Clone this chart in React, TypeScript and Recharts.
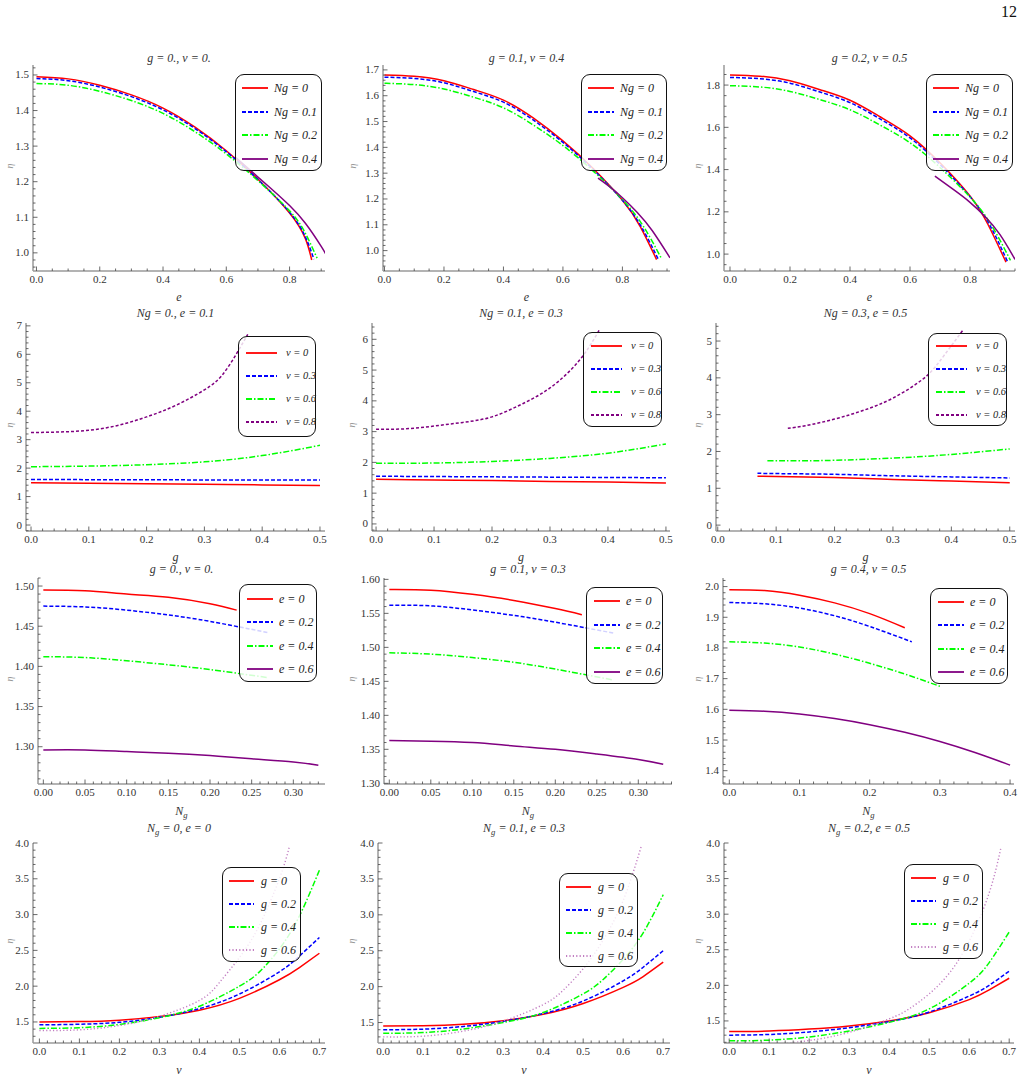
import React from "react";
import { LineChart, Line, XAxis, YAxis, Legend } from "recharts";

type Pt = [number, number];
type StyleKey = "red" | "blue" | "green" | "purple" | "purpleDash" | "purpleDot";

// ---- legend names ----
const NG_NAMES = ["Ng = 0", "Ng = 0.1", "Ng = 0.2", "Ng = 0.4"];
const V_NAMES = ["v = 0", "v = 0.3", "v = 0.6", "v = 0.8"];
const E_NAMES = ["e = 0", "e = 0.2", "e = 0.4", "e = 0.6"];
const G_NAMES = ["g = 0", "g = 0.2", "g = 0.4", "g = 0.6"];

// ---- row 1: eta vs e ----
const p1Red: Pt[] = [[0, 1.495], [0.1, 1.489], [0.2, 1.471], [0.3, 1.444], [0.4, 1.407], [0.5, 1.354], [0.6, 1.287], [0.7, 1.207], [0.8, 1.112], [0.85, 1.04], [0.87, 0.98]];
const p1Blue: Pt[] = [[0, 1.49], [0.1, 1.484], [0.2, 1.466], [0.3, 1.439], [0.4, 1.402], [0.5, 1.35], [0.6, 1.284], [0.7, 1.206], [0.8, 1.114], [0.85, 1.045], [0.877, 0.982]];
const p1Green: Pt[] = [[0, 1.476], [0.1, 1.471], [0.2, 1.454], [0.3, 1.428], [0.4, 1.392], [0.5, 1.341], [0.6, 1.278], [0.7, 1.203], [0.8, 1.118], [0.85, 1.055], [0.887, 0.985]];
const p1Purple: Pt[] = [[0.63, 1.268], [0.7, 1.213], [0.75, 1.174], [0.8, 1.133], [0.85, 1.083], [0.9, 1.018], [0.92, 0.988]];

const p2Red: Pt[] = [[0, 1.68], [0.1, 1.675], [0.2, 1.658], [0.3, 1.624], [0.4, 1.583], [0.5, 1.514], [0.6, 1.425], [0.7, 1.32], [0.8, 1.195], [0.86, 1.093], [0.915, 0.965]];
const p2Blue: Pt[] = [[0, 1.672], [0.1, 1.667], [0.2, 1.65], [0.3, 1.616], [0.4, 1.575], [0.5, 1.506], [0.6, 1.419], [0.7, 1.316], [0.8, 1.195], [0.865, 1.09], [0.92, 0.968]];
const p2Green: Pt[] = [[0, 1.648], [0.1, 1.643], [0.2, 1.626], [0.3, 1.594], [0.4, 1.553], [0.5, 1.487], [0.6, 1.407], [0.7, 1.31], [0.8, 1.198], [0.87, 1.095], [0.93, 0.972]];
const p2Purple: Pt[] = [[0.718, 1.281], [0.76, 1.245], [0.8, 1.205], [0.85, 1.148], [0.9, 1.078], [0.96, 0.972]];

const p3Red: Pt[] = [[0, 1.848], [0.1, 1.842], [0.2, 1.82], [0.3, 1.778], [0.4, 1.728], [0.5, 1.65], [0.6, 1.56], [0.7, 1.432], [0.8, 1.275], [0.86, 1.14], [0.92, 0.962]];
const p3Blue: Pt[] = [[0, 1.836], [0.1, 1.83], [0.2, 1.809], [0.3, 1.767], [0.4, 1.717], [0.5, 1.64], [0.6, 1.55], [0.7, 1.424], [0.8, 1.272], [0.865, 1.14], [0.925, 0.965]];
const p3Green: Pt[] = [[0, 1.797], [0.1, 1.791], [0.2, 1.77], [0.3, 1.731], [0.4, 1.683], [0.5, 1.611], [0.6, 1.527], [0.7, 1.41], [0.8, 1.27], [0.87, 1.14], [0.935, 0.97]];
const p3Purple: Pt[] = [[0.683, 1.369], [0.75, 1.3], [0.8, 1.245], [0.85, 1.178], [0.9, 1.092], [0.95, 0.975]];

// ---- row 2: eta vs g ----
const p4Red: Pt[] = [[0, 1.49], [0.1, 1.47], [0.2, 1.45], [0.3, 1.43], [0.4, 1.41], [0.5, 1.39]];
const p4Blue: Pt[] = [[0, 1.6], [0.1, 1.595], [0.2, 1.59], [0.3, 1.585], [0.4, 1.58], [0.5, 1.58]];
const p4Green: Pt[] = [[0, 2.05], [0.1, 2.07], [0.2, 2.12], [0.3, 2.22], [0.4, 2.44], [0.5, 2.8]];
const p4Purple: Pt[] = [[0, 3.25], [0.05, 3.27], [0.1, 3.33], [0.15, 3.5], [0.2, 3.8], [0.25, 4.2], [0.3, 4.75], [0.33, 5.25], [0.355, 6.0], [0.375, 6.7]];

const p5Red: Pt[] = [[0, 1.45], [0.1, 1.43], [0.2, 1.41], [0.3, 1.38], [0.4, 1.36], [0.5, 1.33]];
const p5Blue: Pt[] = [[0, 1.55], [0.1, 1.54], [0.2, 1.53], [0.3, 1.52], [0.4, 1.51], [0.5, 1.5]];
const p5Green: Pt[] = [[0, 1.97], [0.1, 1.98], [0.2, 2.03], [0.3, 2.13], [0.4, 2.3], [0.5, 2.6]];
const p5Purple: Pt[] = [[0, 3.08], [0.05, 3.09], [0.1, 3.18], [0.15, 3.3], [0.2, 3.48], [0.25, 3.88], [0.3, 4.42], [0.35, 5.3], [0.385, 6.3]];

const p6Red: Pt[] = [[0.068, 1.33], [0.1, 1.32], [0.2, 1.29], [0.3, 1.24], [0.4, 1.2], [0.5, 1.15]];
const p6Blue: Pt[] = [[0.068, 1.41], [0.1, 1.4], [0.2, 1.38], [0.3, 1.34], [0.4, 1.31], [0.5, 1.28]];
const p6Green: Pt[] = [[0.085, 1.75], [0.15, 1.75], [0.2, 1.76], [0.3, 1.82], [0.4, 1.92], [0.5, 2.07]];
const p6Purple: Pt[] = [[0.12, 2.63], [0.15, 2.7], [0.2, 2.88], [0.25, 3.12], [0.3, 3.45], [0.35, 3.95], [0.38, 4.45], [0.42, 5.3]];

// ---- row 3: eta vs Ng ----
const p7Red: Pt[] = [[0, 1.495], [0.05, 1.494], [0.1, 1.49], [0.15, 1.486], [0.2, 1.478], [0.232, 1.47]];
const p7Blue: Pt[] = [[0, 1.475], [0.05, 1.474], [0.1, 1.47], [0.15, 1.464], [0.2, 1.456], [0.27, 1.442]];
const p7Green: Pt[] = [[0, 1.412], [0.05, 1.411], [0.1, 1.407], [0.15, 1.402], [0.2, 1.396], [0.27, 1.386]];
const p7Purple: Pt[] = [[0, 1.296], [0.05, 1.296], [0.1, 1.294], [0.15, 1.292], [0.2, 1.289], [0.25, 1.285], [0.3, 1.281], [0.33, 1.277]];

const p8Red: Pt[] = [[0, 1.585], [0.05, 1.584], [0.1, 1.578], [0.15, 1.569], [0.2, 1.557], [0.232, 1.548]];
const p8Blue: Pt[] = [[0, 1.562], [0.05, 1.561], [0.1, 1.555], [0.15, 1.547], [0.2, 1.537], [0.27, 1.521]];
const p8Green: Pt[] = [[0, 1.492], [0.05, 1.49], [0.1, 1.485], [0.15, 1.478], [0.2, 1.468], [0.27, 1.452]];
const p8Purple: Pt[] = [[0, 1.363], [0.05, 1.362], [0.1, 1.36], [0.15, 1.355], [0.2, 1.35], [0.25, 1.343], [0.3, 1.335], [0.33, 1.328]];

const p9Red: Pt[] = [[0, 1.99], [0.05, 1.987], [0.1, 1.972], [0.15, 1.947], [0.2, 1.912], [0.25, 1.866]];
const p9Blue: Pt[] = [[0, 1.948], [0.05, 1.944], [0.1, 1.93], [0.15, 1.905], [0.2, 1.87], [0.26, 1.82]];
const p9Green: Pt[] = [[0, 1.82], [0.05, 1.816], [0.1, 1.803], [0.15, 1.78], [0.2, 1.75], [0.25, 1.715], [0.3, 1.675]];
const p9Purple: Pt[] = [[0, 1.597], [0.05, 1.594], [0.1, 1.585], [0.15, 1.57], [0.2, 1.55], [0.25, 1.525], [0.3, 1.495], [0.35, 1.459], [0.4, 1.418]];

// ---- row 4: eta vs v ----
const p10Red: Pt[] = [[0, 1.5], [0.1, 1.505], [0.2, 1.525], [0.3, 1.575], [0.4, 1.665], [0.5, 1.83], [0.6, 2.09], [0.65, 2.26], [0.7, 2.46]];
const p10Blue: Pt[] = [[0, 1.46], [0.1, 1.468], [0.2, 1.495], [0.3, 1.565], [0.4, 1.685], [0.5, 1.89], [0.6, 2.2], [0.65, 2.42], [0.7, 2.68]];
const p10Green: Pt[] = [[0, 1.41], [0.1, 1.42], [0.2, 1.465], [0.3, 1.56], [0.4, 1.72], [0.5, 2.0], [0.55, 2.2], [0.6, 2.52], [0.65, 2.98], [0.7, 3.62]];
const p10Purple: Pt[] = [[0, 1.38], [0.1, 1.39], [0.2, 1.45], [0.3, 1.58], [0.4, 1.8], [0.45, 2.05], [0.5, 2.4], [0.55, 2.85], [0.6, 3.5], [0.625, 3.95]];

const p11Red: Pt[] = [[0, 1.45], [0.1, 1.455], [0.2, 1.475], [0.3, 1.525], [0.4, 1.615], [0.5, 1.765], [0.6, 1.99], [0.65, 2.14], [0.7, 2.34]];
const p11Blue: Pt[] = [[0, 1.4], [0.1, 1.408], [0.2, 1.445], [0.3, 1.515], [0.4, 1.625], [0.5, 1.8], [0.6, 2.08], [0.65, 2.27], [0.7, 2.5]];
const p11Green: Pt[] = [[0, 1.35], [0.1, 1.36], [0.2, 1.41], [0.3, 1.5], [0.4, 1.64], [0.5, 1.9], [0.55, 2.1], [0.6, 2.38], [0.65, 2.75], [0.7, 3.28]];
const p11Purple: Pt[] = [[0, 1.3], [0.1, 1.31], [0.2, 1.38], [0.3, 1.52], [0.4, 1.75], [0.45, 1.95], [0.5, 2.25], [0.55, 2.65], [0.6, 3.2], [0.645, 3.95]];

const p12Red: Pt[] = [[0, 1.35], [0.1, 1.358], [0.2, 1.385], [0.3, 1.43], [0.4, 1.5], [0.5, 1.615], [0.6, 1.8], [0.65, 1.935], [0.7, 2.1]];
const p12Blue: Pt[] = [[0, 1.3], [0.1, 1.31], [0.2, 1.345], [0.3, 1.405], [0.4, 1.49], [0.5, 1.625], [0.6, 1.85], [0.65, 2.0], [0.7, 2.2]];
const p12Green: Pt[] = [[0, 1.22], [0.1, 1.23], [0.2, 1.275], [0.3, 1.36], [0.4, 1.48], [0.5, 1.67], [0.6, 2.03], [0.65, 2.32], [0.7, 2.75]];
const p12Purple: Pt[] = [[0, 1.15], [0.1, 1.165], [0.2, 1.225], [0.3, 1.34], [0.4, 1.53], [0.45, 1.67], [0.5, 1.88], [0.55, 2.17], [0.6, 2.62], [0.65, 3.3], [0.68, 3.95]];

// ---- styling ----
const FONT = '"Liberation Serif", "Times New Roman", serif';
const STYLES: Record<StyleKey, { stroke: string; dash?: string; w?: number }> = {
  red: { stroke: "#ff0000" },
  blue: { stroke: "#0000ff", dash: "4 2" },
  green: { stroke: "#00ff00", dash: "6 2 1.5 2" },
  purple: { stroke: "#800080" },
  purpleDash: { stroke: "#800080", dash: "3 2" },
  purpleDot: { stroke: "#c27fc2", dash: "1.2 2.2", w: 1.4 },
};
const FRAME = { stroke: "#9a9a9a", strokeWidth: 1.5 };

interface Series { name: string; pts: Pt[]; style: StyleKey }
interface RowStyle { s0: number; s1: number; tx: number; font: number; rowH: number }
interface PanelCfg {
  frame: [number, number, number, number];
  xDomain: [number, number];
  yDomain: [number, number];
  xStep: number; xMinor: number; xDigits: number;
  yStep: number; yMinor: number; yDigits: number;
  title: React.ReactNode;
  xLabel: React.ReactNode;
  series: Series[];
  legend: [number, number, number, number];
  row: RowStyle;
  titleY: number;
  xLabelY: number;
  etaX: number;
}

const ROW1: RowStyle = { s0: 6, s1: 32, tx: 38, font: 12, rowH: 23.6 };
const ROW2: RowStyle = { s0: 7, s1: 38, tx: 47, font: 10.5, rowH: 23 };
const ROW3: RowStyle = { s0: 7, s1: 33, tx: 39, font: 12, rowH: 23.6 };
const ROW4: RowStyle = { s0: 6, s1: 31, tx: 38, font: 12, rowH: 23 };

const mk = (names: string[], data: Pt[][], styles: StyleKey[]): Series[] =>
  names.map((name, i) => ({ name, pts: data[i], style: styles[i] }));

const S1: StyleKey[] = ["red", "blue", "green", "purple"];
const S2: StyleKey[] = ["red", "blue", "green", "purpleDash"];
const S4: StyleKey[] = ["red", "blue", "green", "purpleDot"];

const Ng = () => (
  <>N<sub style={{ fontSize: "0.72em", verticalAlign: "-0.3em", lineHeight: 0 }}>g</sub></>
);

const PANELS: PanelCfg[] = [
  { frame: [33, 325, 65, 271], xDomain: [-0.011, 0.912], yDomain: [0.949, 1.528], xStep: 0.2, xMinor: 0.05, xDigits: 1, yStep: 0.1, yMinor: 0.02, yDigits: 1,
    title: "g = 0., v = 0.", xLabel: "e", series: mk(NG_NAMES, [p1Red, p1Blue, p1Green, p1Purple], S1), legend: [235, 74, 87, 97], row: ROW1, titleY: 58, xLabelY: 297, etaX: 10 },
  { frame: [383, 670, 65, 271], xDomain: [-0.005, 0.96], yDomain: [0.921, 1.719], xStep: 0.2, xMinor: 0.05, xDigits: 1, yStep: 0.1, yMinor: 0.02, yDigits: 1,
    title: "g = 0.1, v = 0.4", xLabel: "e", series: mk(NG_NAMES, [p2Red, p2Blue, p2Green, p2Purple], S1), legend: [581, 74, 86, 97], row: ROW1, titleY: 58, xLabelY: 297, etaX: 353 },
  { frame: [724, 1015, 65, 271], xDomain: [-0.02, 0.95], yDomain: [0.92, 1.895], xStep: 0.2, xMinor: 0.05, xDigits: 1, yStep: 0.2, yMinor: 0.05, yDigits: 1,
    title: "g = 0.2, v = 0.5", xLabel: "e", series: mk(NG_NAMES, [p3Red, p3Blue, p3Green, p3Purple], S1), legend: [926, 74, 87, 97], row: ROW1, titleY: 58, xLabelY: 297, etaX: 698 },

  { frame: [26, 325, 323, 531], xDomain: [-0.0087, 0.5087], yDomain: [-0.21, 7.1], xStep: 0.1, xMinor: 0.02, xDigits: 1, yStep: 1, yMinor: 0.2, yDigits: 0,
    title: "Ng = 0., e = 0.1", xLabel: "g", series: mk(V_NAMES, [p4Red, p4Blue, p4Green, p4Purple], S2), legend: [238, 336, 78, 101], row: ROW2, titleY: 313, xLabelY: 557, etaX: 10 },
  { frame: [372, 670, 323, 531], xDomain: [-0.007, 0.507], yDomain: [-0.23, 6.53], xStep: 0.1, xMinor: 0.02, xDigits: 1, yStep: 1, yMinor: 0.2, yDigits: 0,
    title: "Ng = 0.1, e = 0.3", xLabel: "g", series: mk(V_NAMES, [p5Red, p5Blue, p5Green, p5Purple], S2), legend: [583, 332, 79, 95], row: ROW2, titleY: 313, xLabelY: 557, etaX: 352 },
  { frame: [716, 1015, 323, 531], xDomain: [-0.003, 0.509], yDomain: [-0.16, 5.49], xStep: 0.1, xMinor: 0.02, xDigits: 1, yStep: 1, yMinor: 0.2, yDigits: 0,
    title: "Ng = 0.3, e = 0.5", xLabel: "g", series: mk(V_NAMES, [p6Red, p6Blue, p6Green, p6Purple], S2), legend: [928, 333, 79, 93], row: ROW2, titleY: 313, xLabelY: 557, etaX: 698 },

  { frame: [38, 325, 578, 784], xDomain: [-0.0064, 0.338], yDomain: [1.2536, 1.51], xStep: 0.05, xMinor: 0.01, xDigits: 2, yStep: 0.05, yMinor: 0.01, yDigits: 2,
    title: "g = 0., v = 0.", xLabel: <Ng />, series: mk(E_NAMES, [p7Red, p7Blue, p7Green, p7Purple], S1), legend: [239, 584, 78, 98], row: ROW3, titleY: 569, xLabelY: 811, etaX: 10 },
  { frame: [384, 672, 578, 784], xDomain: [-0.0064, 0.3406], yDomain: [1.299, 1.602], xStep: 0.05, xMinor: 0.01, xDigits: 2, yStep: 0.05, yMinor: 0.01, yDigits: 2,
    title: "g = 0.1, v = 0.3", xLabel: <Ng />, series: mk(E_NAMES, [p8Red, p8Blue, p8Green, p8Purple], S1), legend: [586, 587, 77, 97], row: ROW3, titleY: 569, xLabelY: 811, etaX: 352 },
  { frame: [723, 1014, 578, 784], xDomain: [-0.009, 0.4056], yDomain: [1.3566, 2.028], xStep: 0.1, xMinor: 0.02, xDigits: 1, yStep: 0.1, yMinor: 0.02, yDigits: 1,
    title: "g = 0.4, v = 0.5", xLabel: <Ng />, series: mk(E_NAMES, [p9Red, p9Blue, p9Green, p9Purple], S1), legend: [930, 588, 78, 96], row: ROW3, titleY: 569, xLabelY: 811, etaX: 698 },

  { frame: [33, 325, 843, 1043], xDomain: [-0.016, 0.714], yDomain: [1.206, 4.0], xStep: 0.1, xMinor: 0.02, xDigits: 1, yStep: 0.5, yMinor: 0.1, yDigits: 1,
    title: <><Ng /> = 0, e = 0</>, xLabel: "v", series: mk(G_NAMES, [p10Red, p10Blue, p10Green, p10Purple], S4), legend: [222, 867, 79, 95], row: ROW4, titleY: 828, xLabelY: 1070, etaX: 10 },
  { frame: [378, 670, 843, 1043], xDomain: [-0.013, 0.717], yDomain: [1.215, 4.0], xStep: 0.1, xMinor: 0.02, xDigits: 1, yStep: 0.5, yMinor: 0.1, yDigits: 1,
    title: <><Ng /> = 0.1, e = 0.3</>, xLabel: "v", series: mk(G_NAMES, [p11Red, p11Blue, p11Green, p11Purple], S4), legend: [559, 873, 79, 94], row: ROW4, titleY: 828, xLabelY: 1070, etaX: 352 },
  { frame: [724, 1014, 843, 1043], xDomain: [-0.013, 0.712], yDomain: [1.19, 4.0], xStep: 0.1, xMinor: 0.02, xDigits: 1, yStep: 0.5, yMinor: 0.1, yDigits: 1,
    title: <><Ng /> = 0.2, e = 0.5</>, xLabel: "v", series: mk(G_NAMES, [p12Red, p12Blue, p12Green, p12Purple], S4), legend: [904, 864, 79, 95], row: ROW4, titleY: 828, xLabelY: 1070, etaX: 698 },
];

function buildTicks(domain: [number, number], minor: number): number[] {
  const out: number[] = [];
  const start = Math.ceil(domain[0] / minor - 1e-6);
  const end = Math.floor(domain[1] / minor + 1e-6);
  for (let i = start; i <= end; i++) out.push(Number((i * minor).toFixed(6)));
  return out;
}

const isMajor = (v: number, step: number) => Math.abs(v / step - Math.round(v / step)) < 1e-4;

function makeTick(side: "bottom" | "left" | "top" | "right", step: number, digits: number) {
  return (props: any) => {
    const { x, y, payload } = props;
    const v: number = payload.value;
    const major = isMajor(v, step);
    const len = major ? 4.5 : 2.5;
    const tickStroke = { stroke: "#444", strokeWidth: 0.8 };
    const label = { fontFamily: FONT, fontSize: 11, fill: "#333" };
    if (side === "bottom") {
      return (
        <g>
          <line x1={x} y1={y} x2={x} y2={y - len} {...tickStroke} />
          {major && <text x={x} y={y + 12} textAnchor="middle" {...label}>{v.toFixed(digits)}</text>}
        </g>
      );
    }
    if (side === "left") {
      return (
        <g>
          <line x1={x} y1={y} x2={x + len} y2={y} {...tickStroke} />
          {major && <text x={x - 4} y={y + 3.5} textAnchor="end" {...label}>{v.toFixed(digits)}</text>}
        </g>
      );
    }
    if (side === "top") return <line x1={x} y1={y} x2={x} y2={y + len} {...tickStroke} />;
    return <line x1={x} y1={y} x2={x - len} y2={y} {...tickStroke} />;
  };
}

function LegendBox({ payload, series, row, w, h }: { payload: any[]; series: Series[]; row: RowStyle; w: number; h: number }) {
  const pad = (h - 4 * row.rowH) / 2;
  return (
    <div style={{ width: w, height: h, boxSizing: "border-box", border: "1.2px solid #111", borderRadius: 9, background: "rgba(255,255,255,0.82)", position: "relative" }}>
      {series.map((s, i) => {
        const entry = (payload || []).find((p: any) => p.value === s.name);
        const st = STYLES[s.style];
        const cy = pad + row.rowH * (i + 0.5);
        return (
          <div key={s.name} style={{ position: "absolute", left: 0, top: cy - 9, height: 18, width: w }}>
            <svg width={w} height={18} style={{ position: "absolute", left: 0, top: 0 }}>
              <line x1={row.s0} x2={row.s1} y1={9} y2={9} stroke={entry ? entry.color : st.stroke} strokeWidth={1.8} strokeDasharray={st.dash} />
            </svg>
            <span style={{ position: "absolute", left: row.tx, top: 0, lineHeight: "18px", fontFamily: FONT, fontStyle: "italic", fontSize: row.font, color: "#222", whiteSpace: "nowrap" }}>
              {entry ? entry.value : s.name}
            </span>
          </div>
        );
      })}
    </div>
  );
}

function Panel({ cfg }: { cfg: PanelCfg }) {
  const [l, r, t, b] = cfg.frame;
  const ML = 40, MT = 10, MR = 6, MB = 20;
  const width = r - l + ML + MR;
  const height = b - t + MT + MB;
  const left = l - ML;
  const top = t - MT;
  const xTicks = buildTicks(cfg.xDomain, cfg.xMinor);
  const yTicks = buildTicks(cfg.yDomain, cfg.yMinor);
  const [lx, ly, lw, lh] = cfg.legend;
  return (
    <div style={{ position: "absolute", left, top, width, height }}>
      <LineChart width={width} height={height} margin={{ top: MT, right: MR, bottom: 0, left: 10 }}>
        <XAxis xAxisId="b" type="number" dataKey="x" domain={cfg.xDomain} allowDataOverflow ticks={xTicks} interval={0}
          height={MB} tickSize={0} tickMargin={0} tickLine={false} axisLine={FRAME} tick={makeTick("bottom", cfg.xStep, cfg.xDigits)} />
        <XAxis xAxisId="t" orientation="top" type="number" dataKey="x" domain={cfg.xDomain} allowDataOverflow ticks={xTicks} interval={0}
          height={0} tickSize={0} tickMargin={0} tickLine={false} axisLine={FRAME} tick={makeTick("top", cfg.xStep, cfg.xDigits)} />
        <YAxis yAxisId="l" type="number" domain={cfg.yDomain} allowDataOverflow ticks={yTicks} interval={0}
          width={30} tickSize={0} tickMargin={0} tickLine={false} axisLine={FRAME} tick={makeTick("left", cfg.yStep, cfg.yDigits)} />
        <YAxis yAxisId="r" orientation="right" type="number" domain={cfg.yDomain} allowDataOverflow ticks={yTicks} interval={0}
          width={0} tickSize={0} tickMargin={0} tickLine={false} axisLine={FRAME} tick={makeTick("right", cfg.yStep, cfg.yDigits)} />
        {cfg.series.map((s) => {
          const st = STYLES[s.style];
          return (
            <Line key={s.name} name={s.name} xAxisId="b" yAxisId="l" type="natural" data={s.pts.map(([x, y]) => ({ x, y }))} dataKey="y"
              stroke={st.stroke} strokeWidth={st.w ?? 1.5} strokeDasharray={st.dash} dot={false} activeDot={false} isAnimationActive={false} />
          );
        })}
        <Legend layout="horizontal" verticalAlign="middle" align="center"
          wrapperStyle={{ left: lx - left, top: ly - top, width: lw, height: lh, bottom: "auto", right: "auto" }}
          content={(p: any) => <LegendBox payload={p.payload} series={cfg.series} row={cfg.row} w={lw} h={lh} />} />
      </LineChart>
    </div>
  );
}

function TextAt({ x, y, children, size = 12, w = 260 }: { x: number; y: number; children: React.ReactNode; size?: number; w?: number }) {
  return (
    <div style={{ position: "absolute", left: x - w / 2, top: y - 9, width: w, height: 18, lineHeight: "18px", textAlign: "center",
      fontFamily: FONT, fontStyle: "italic", fontSize: size, color: "#333", whiteSpace: "nowrap" }}>
      {children}
    </div>
  );
}

export default function App() {
  return (
    <div style={{ position: "absolute", left: 0, top: 0, width: 1023, height: 1082, overflow: "hidden", background: "#fff" }}>
      <div style={{ position: "absolute", right: 6, top: 3, fontFamily: FONT, fontSize: 16, color: "#111" }}>12</div>
      {PANELS.map((cfg, i) => {
        const [l, r, t, b] = cfg.frame;
        const cx = (l + r) / 2;
        return (
          <React.Fragment key={i}>
            <TextAt x={cx} y={cfg.titleY}>{cfg.title}</TextAt>
            <TextAt x={cx} y={cfg.xLabelY}>{cfg.xLabel}</TextAt>
            <div style={{ position: "absolute", left: cfg.etaX - 10, top: (t + b) / 2 - 12, width: 20, height: 20, lineHeight: "20px", textAlign: "center",
              transform: "rotate(-90deg)", fontFamily: FONT, fontStyle: "italic", fontSize: 10, color: "#999" }}>η</div>
            <Panel cfg={cfg} />
          </React.Fragment>
        );
      })}
    </div>
  );
}
